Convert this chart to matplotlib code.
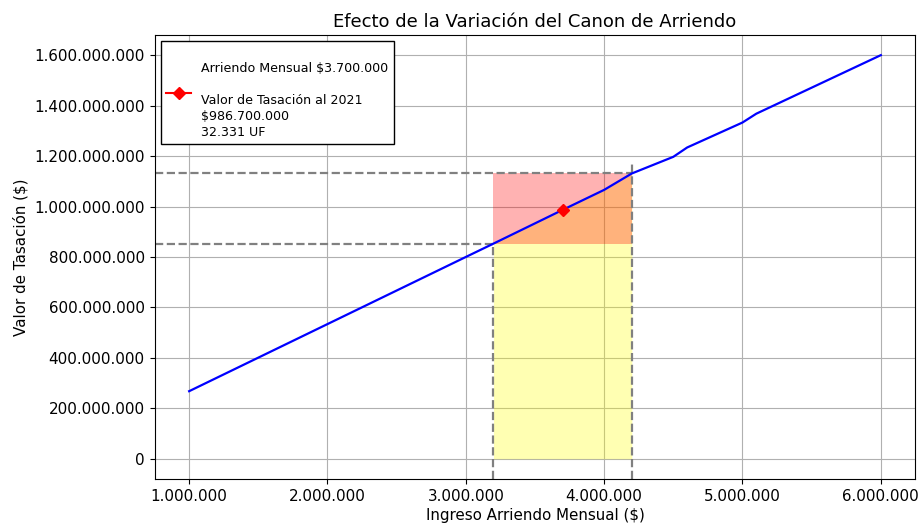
import matplotlib
matplotlib.use('Agg')
import matplotlib.pyplot as plt
from matplotlib.ticker import FuncFormatter

# Data
arriendo = [1000000, 2000000, 3000000, 3200000, 3700000, 4000000, 4200000,
            4500000, 4600000, 5000000, 5100000, 6000000]
tasacion = [268000000, 534000000, 800000000, 853000000, 986700000, 1066000000,
            1131000000, 1197000000, 1234000000, 1333000000, 1368000000, 1600000000]

arriendo_actual = 3700000
tasacion_actual = 986700000
uf_actual = 32331

rango_x = [3200000, 4200000]
rango_y = [853000000, 1131000000]
tope_vline = 1168000000

def miles(v, pos=None):
    return f'{int(round(v)):,}'.replace(',', '.')

plt.rcParams['font.size'] = 10.9

fig = plt.figure(figsize=(9.2, 5.26), dpi=100)
ax = fig.add_axes([0.168, 0.0894, 0.827, 0.8441])

ax.set_xlim(750000, 6250000)
ax.set_ylim(-80000000, 1680000000)
x0 = ax.get_xlim()[0]
y0 = ax.get_ylim()[0]

# Shaded regions
xs = [x for x in arriendo if rango_x[0] <= x <= rango_x[1]]
ys = [y for x, y in zip(arriendo, tasacion) if rango_x[0] <= x <= rango_x[1]]
ax.fill_between(xs, 0, ys, color='yellow', alpha=0.3, linewidth=0)
ax.fill_between(rango_x, rango_y[0], rango_y[1], color='red', alpha=0.3, linewidth=0)

ax.plot(arriendo, tasacion, color='blue', linewidth=1.6, zorder=3)

# Reference lines
ax.hlines(rango_y[0], x0, rango_x[0], colors='gray', linestyles='--', linewidth=1.6)
ax.hlines(rango_y[1], x0, rango_x[1], colors='gray', linestyles='--', linewidth=1.6)
ax.vlines(rango_x[0], y0, rango_y[0], colors='gray', linestyles='--', linewidth=1.6)
ax.vlines(rango_x[1], y0, tope_vline, colors='gray', linestyles='--', linewidth=1.6)

label = ('\nArriendo Mensual $' + miles(arriendo_actual) + '\n\n'
         'Valor de Tasación al 2021\n$' + miles(tasacion_actual) + '\n'
         + miles(uf_actual) + ' UF')
ax.plot(arriendo_actual, tasacion_actual, color='red', marker='D', markersize=6.5,
        zorder=4, label=label)

ax.xaxis.set_major_formatter(FuncFormatter(miles))
ax.yaxis.set_major_formatter(FuncFormatter(miles))
ax.set_yticks(range(0, 1600000001, 200000000))

ax.grid(True)
ax.set_axisbelow(True)

ax.set_title('Efecto de la Variación del Canon de Arriendo', fontsize=13)
ax.set_xlabel('Ingreso Arriendo Mensual ($)', labelpad=3)
ax.set_ylabel('Valor de Tasación ($)')

leg = ax.legend(loc='upper left', fontsize=9.1, fancybox=False, edgecolor='black', framealpha=1)
for t in leg.get_texts():
    t.set_linespacing(1.3)

fig.savefig('out.png', dpi=100)
